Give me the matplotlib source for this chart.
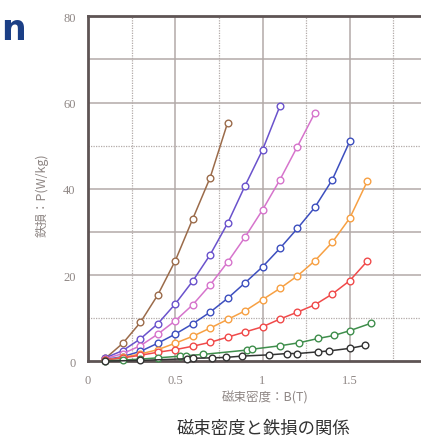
import matplotlib
matplotlib.use("Agg")
from matplotlib import pyplot as plt
import numpy as np

# iron loss curves, one per steel grade: flux density B (T) vs loss P (W/kg)
b_brown = [0.1, 0.2, 0.3, 0.4, 0.5, 0.6, 0.7, 0.8]
p_brown = [0.7, 4.2, 9.0, 15.4, 23.3, 33.0, 42.6, 55.3]

b_purple = [0.1, 0.2, 0.3, 0.4, 0.5, 0.6, 0.7, 0.8, 0.9, 1.0, 1.1]
p_purple = [0.8, 2.5, 5.2, 8.7, 13.3, 18.6, 24.7, 32.0, 40.7, 49.0, 59.2]

b_pink = [0.1, 0.2, 0.3, 0.4, 0.5, 0.6, 0.7, 0.8, 0.9, 1.0, 1.1, 1.2, 1.3]
p_pink = [0.6, 1.8, 3.6, 6.3, 9.4, 13.1, 17.7, 23.0, 28.8, 35.1, 42.1, 49.8, 57.6]

b_blue = [0.1, 0.2, 0.3, 0.4, 0.5, 0.6, 0.7, 0.8, 0.9, 1.0, 1.1, 1.2, 1.3, 1.4, 1.5]
p_blue = [0.4, 1.1, 2.3, 4.2, 6.3, 8.7, 11.4, 14.6, 18.2, 21.9, 26.2, 30.8, 35.7, 42.1, 51.0]

b_orange = [0.1, 0.2, 0.3, 0.4, 0.5, 0.6, 0.7, 0.8, 0.9, 1.0, 1.1, 1.2, 1.3, 1.4, 1.5, 1.6]
p_orange = [0.3, 0.9, 1.7, 2.7, 4.2, 5.8, 7.7, 9.7, 11.7, 14.3, 16.9, 19.8, 23.3, 27.6, 33.2, 41.7]

b_red = [0.1, 0.2, 0.3, 0.4, 0.5, 0.6, 0.7, 0.8, 0.9, 1.0, 1.1, 1.2, 1.3, 1.4, 1.5, 1.6]
p_red = [0.3, 0.8, 1.4, 2.1, 2.7, 3.5, 4.4, 5.6, 6.8, 8.0, 9.8, 11.4, 13.1, 15.6, 18.7, 23.2]

b_green = [0.1, 0.2, 0.3, 0.4, 0.53, 0.56, 0.66, 0.91, 0.94, 1.1, 1.21, 1.32, 1.41, 1.5, 1.62]
p_green = [0.1, 0.3, 0.5, 0.8, 1.2, 1.3, 1.6, 2.6, 2.8, 3.6, 4.3, 5.3, 6.0, 7.1, 8.8]

b_black = [0.1, 0.3, 0.57, 0.6, 0.71, 0.79, 0.88, 1.04, 1.14, 1.2, 1.32, 1.38, 1.5, 1.59]
p_black = [0.05, 0.2, 0.6, 0.7, 0.8, 0.9, 1.2, 1.5, 1.8, 1.8, 2.2, 2.4, 3.0, 3.7]

series = [
    (b_brown, p_brown, "#9b6b4a"),
    (b_purple, p_purple, "#6a52cc"),
    (b_pink, p_pink, "#d674cc"),
    (b_blue, p_blue, "#3d4fbf"),
    (b_orange, p_orange, "#f7a043"),
    (b_red, p_red, "#f04a4a"),
    (b_green, p_green, "#3f8e4c"),
    (b_black, p_black, "#333333"),
]

x_ticks = [0, 0.5, 1, 1.5]
x_tick_labels = ["0", "0.5", "1", "1.5"]
y_ticks = [0, 20, 40, 60, 80]

W, H = 421, 439
fig = plt.figure(figsize=(W / 100, H / 100), dpi=100)
fig.patch.set_facecolor("white")

# axes run past the right edge of the figure
ax = fig.add_axes([88 / W, (H - 362.3) / H, 349 / W, 345 / H])
ax.set_xlim(0, 2)
ax.set_ylim(0, 80)

grid_c = "#b3aaa8"
for x in np.arange(0.25, 2.0, 0.25):
    solid = abs(x * 2 - round(x * 2)) < 1e-9
    ax.axvline(x, color=grid_c, lw=1.1 if solid else 0.9,
               ls="-" if solid else (0, (1, 1)), zorder=0)
for y in np.arange(10, 80, 10):
    solid = int(y) in (20, 30, 40, 60, 70)
    ax.axhline(y, color=grid_c, lw=1.1 if solid else 0.9,
               ls="-" if solid else (0, (1, 1)), zorder=0)

for b, p, c in series:
    ax.plot(b, p, color=c, lw=1.1, marker="o", ms=4.8, mfc="white",
            mec=c, mew=1.0, zorder=3, clip_on=False)

for side in ["left", "bottom", "top"]:
    ax.spines[side].set_color("#5e5454")
    ax.spines[side].set_linewidth(2.0)
ax.spines["right"].set_visible(False)

ax.set_xticks(x_ticks)
ax.set_xticklabels(x_tick_labels)
ax.set_yticks(y_ticks)
ax.tick_params(length=0, pad=9, labelsize=9, labelcolor="#8f8785")
for lbl in ax.get_xticklabels() + ax.get_yticklabels():
    lbl.set_family("Liberation Serif")

cjk = ["Noto Sans CJK JP", "DejaVu Sans"]
fig.text(265 / W, 1 - 398 / H, "磁束密度：B(T)", family=cjk, fontsize=9,
         color="#8f8785", ha="center", va="center")
fig.text(42 / W, 1 - 195 / H, "鉄損：P(W/kg)", family=cjk, fontsize=9,
         color="#8f8785", ha="center", va="center", rotation=90)
fig.text(263 / W, 1 - 429 / H, "磁束密度と鉄損の関係", family=cjk,
         fontsize=12.5, color="#333333", ha="center", va="center")

# leftover letter of the page heading
fig.text(1 / W, 1 - 40 / H, "n", family="DejaVu Sans", fontsize=25,
         fontweight="bold", color="#1b3f86", ha="left", va="baseline")

fig.savefig("out.png", dpi=100, facecolor="white")
